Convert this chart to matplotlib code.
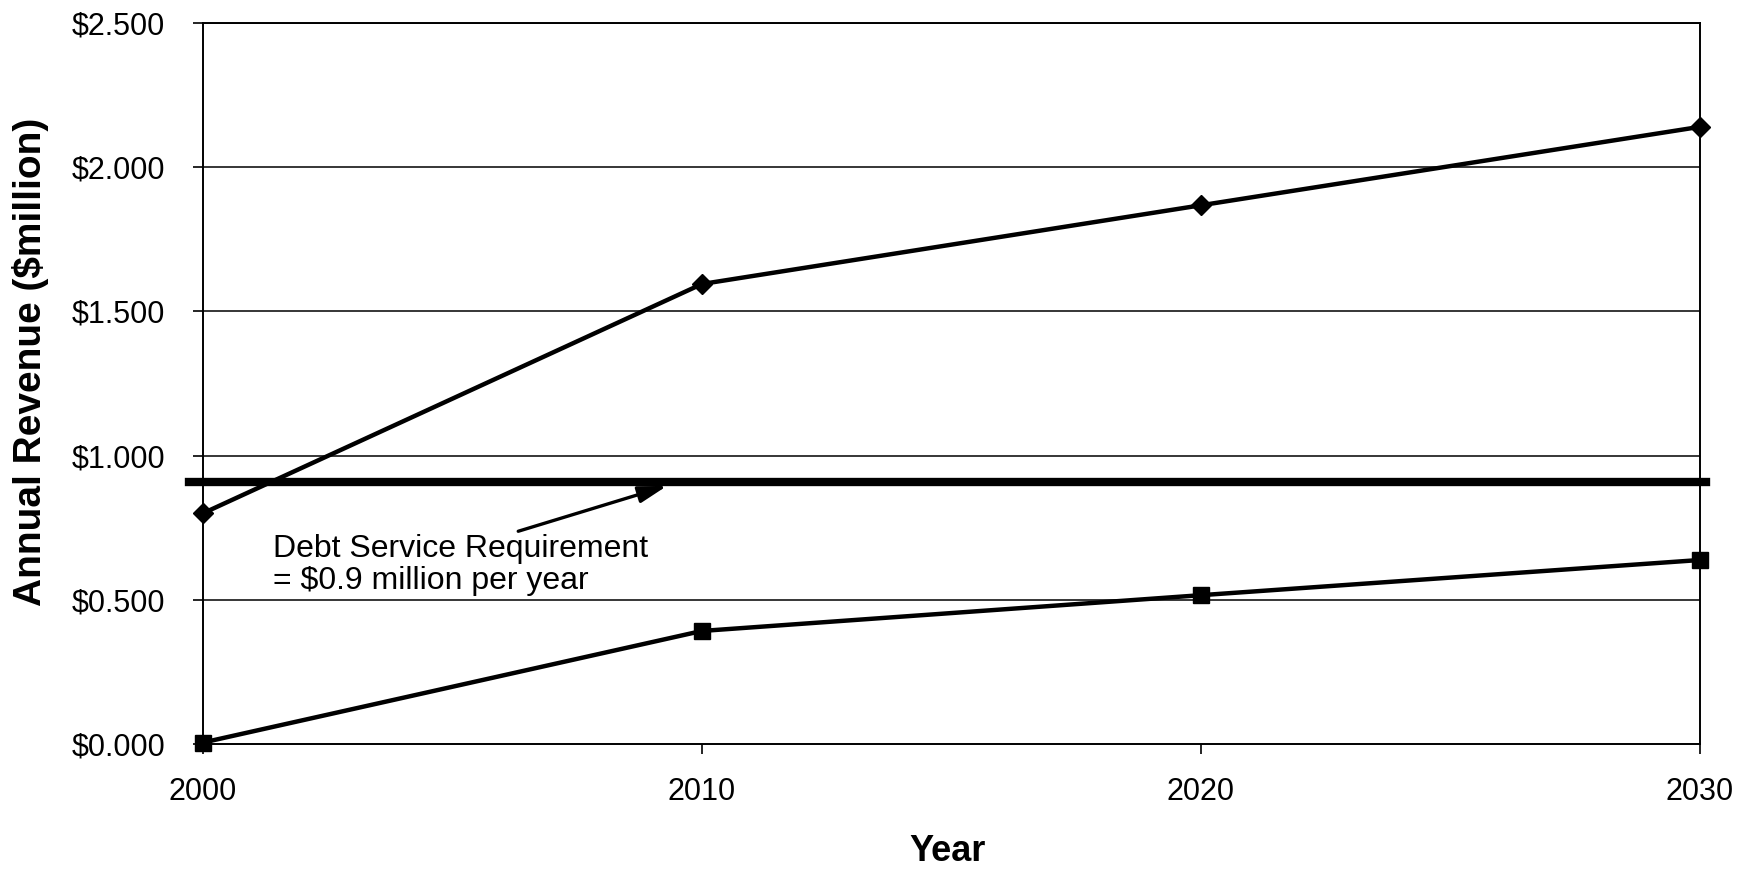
import matplotlib
matplotlib.use("Agg")
import matplotlib.pyplot as plt
from matplotlib.ticker import FuncFormatter

plt.rcParams['font.family'] = ['Liberation Sans', 'DejaVu Sans']

# ---- data ----
years = [2000, 2010, 2020, 2030]
revenue_high = [0.80, 1.595, 1.868, 2.140]
revenue_low = [0.005, 0.392, 0.516, 0.638]
debt_service = 0.91
x_ticks = [2000, 2010, 2020, 2030]
y_ticks = [0.0, 0.5, 1.0, 1.5, 2.0, 2.5]
annotation_text = "Debt Service Requirement\n= $0.9 million per year"
x_label = "Year"
y_label = "Annual Revenue ($million)"

fig = plt.figure(figsize=(17.48, 8.72), dpi=100)
ax = fig.add_axes([0.1161, 0.1468, 0.8564, 0.8268])

ax.set_xlim(2000, 2030)
ax.set_ylim(0, 2.5)

# gridlines
for yv in y_ticks[1:]:
    ax.axhline(yv, color='black', lw=1.1, zorder=1)

# debt service line
ax.axhline(debt_service, xmin=-0.009, xmax=1.004, color='black', lw=6.0,
           zorder=3, clip_on=False)

ax.plot(years, revenue_high, color='black', lw=3.2, marker='D', ms=10,
        zorder=4, clip_on=False)
ax.plot(years, revenue_low, color='black', lw=3.2, marker='s', ms=11,
        zorder=4, clip_on=False)

ax.annotate(annotation_text, xy=(2009.3, debt_service - 0.015),
            xytext=(2001.4, 0.62), fontsize=23, ha='left', va='center',
            linespacing=1.1,
            arrowprops=dict(arrowstyle='-|>,head_length=0.75,head_width=0.22',
                            color='black', lw=2.4, shrinkA=0, shrinkB=0,
                            relpos=(0.63, 1.0)))

ax.set_xticks(x_ticks)
ax.set_yticks(y_ticks)
ax.yaxis.set_major_formatter(FuncFormatter(lambda v, p: f"${v:.3f}"))
ax.tick_params(axis='both', direction='out', length=7, width=1.2,
               labelsize=22, colors='black')
ax.tick_params(axis='y', pad=20)
ax.tick_params(axis='x', pad=17)

for s in ax.spines.values():
    s.set_color('black')
    s.set_linewidth(1.4)

ax.set_xlabel(x_label, fontsize=26, fontweight='bold', va='center')
ax.xaxis.set_label_coords(0.4977, -0.1498)
ax.set_ylabel(y_label, fontsize=28, fontweight='bold', va='center')
ax.yaxis.set_label_coords(-0.1149, 0.53)

fig.savefig("out.png", dpi=100)
